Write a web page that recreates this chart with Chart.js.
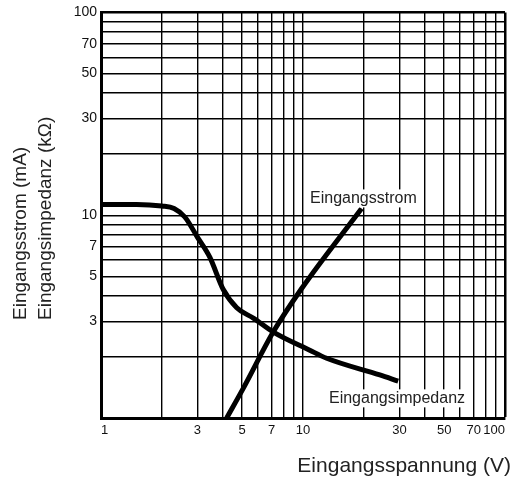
<!DOCTYPE html>
<html>
<head>
<meta charset="utf-8">
<script src="https://cdn.jsdelivr.net/npm/chart.js@4/dist/chart.umd.min.js"></script>
<style>
  html, body { margin: 0; padding: 0; background: #fff; }
</style>
</head>
<body>
<canvas id="myChart" width="510" height="477"></canvas>
<script>
// Eingangsimpedanz (kOhm) über Eingangsspannung (V)
const impedanceVolt = [1, 1.5, 2, 2.3, 2.6, 3.0, 3.46, 4.03, 4.7, 5.7, 7.1, 10.8, 13.1, 24, 29.6];
const impedanceKOhm = [11.3, 11.3, 11.1, 10.8, 9.8, 7.8, 6.2, 4.3, 3.5, 3.1, 2.66, 2.16, 1.97, 1.63, 1.52];

// Eingangsstrom (mA) über Eingangsspannung (V)
const currentVolt = [4.19, 5.1, 7.13, 9.85, 19.5];
const currentMA = [1.0, 1.42, 2.66, 4.35, 10.8];

// Gitter und Beschriftungen
const gridTicks = [1, 2, 3, 4, 5, 6, 7, 8, 9, 10, 20, 30, 40, 50, 60, 70, 80, 90, 100];
const xTickLabels = [1, 3, 5, 7, 10, 30, 50, 70, 100];
const yTickLabels = [3, 5, 7, 10, 30, 50, 70, 100];

const FONT = '"Liberation Sans", Arial, Helvetica, sans-serif';

const toPoints = (xs, ys) => xs.map((v, i) => ({ x: v, y: ys[i] }));

// Texte: Kurvenbeschriftungen und Achsentitel
const textPlugin = {
  id: "texts",
  afterDatasetsDraw(chart) {
    const { ctx, scales } = chart;
    ctx.save();
    ctx.font = "16px " + FONT;
    ctx.textAlign = "center";
    ctx.textBaseline = "middle";
    const labels = [
      { text: "Eingangsstrom", x: scales.x.getPixelForValue(19.9), y: scales.y.getPixelForValue(12.1) },
      { text: "Eingangsimpedanz", x: scales.x.getPixelForValue(29.2), y: scales.y.getPixelForValue(1.25) },
    ];
    labels.forEach((l) => {
      const w = ctx.measureText(l.text).width;
      ctx.fillStyle = "#fff";
      ctx.fillRect(l.x - w / 2 - 2, l.y - 9, w + 4, 18);
      ctx.fillStyle = "#222";
      ctx.fillText(l.text, l.x, l.y);
    });
    ctx.restore();
  },
  afterDraw(chart) {
    const { ctx } = chart;
    ctx.save();
    ctx.fillStyle = "#222";
    ctx.font = "19px " + FONT;
    ctx.textBaseline = "middle";
    ctx.textAlign = "left";
    ctx.translate(21, 320);
    ctx.rotate(-Math.PI / 2);
    ctx.fillText("Eingangsstrom (mA)", 0, 0);
    ctx.fillText("Eingangsimpedanz (k\u03A9)", 0, 25);
    ctx.restore();

    ctx.save();
    ctx.fillStyle = "#222";
    ctx.font = "21px " + FONT;
    ctx.textAlign = "right";
    ctx.textBaseline = "middle";
    ctx.fillText("Eingangsspannung (V)", 511, 466);
    ctx.restore();
  },
};

const gridWidth = (c) => (c.tick && c.tick.value === 100 ? 2.5 : 1.4);

const ctx = document.getElementById("myChart");
new Chart(ctx, {
  type: "line",
  data: {
    datasets: [
      {
        label: "Eingangsimpedanz",
        data: toPoints(impedanceVolt, impedanceKOhm),
        borderColor: "#000",
        borderWidth: 5,
        pointRadius: 0,
        cubicInterpolationMode: "monotone",
        fill: false,
      },
      {
        label: "Eingangsstrom",
        data: toPoints(currentVolt, currentMA),
        borderColor: "#000",
        borderWidth: 5,
        pointRadius: 0,
        cubicInterpolationMode: "monotone",
        fill: false,
      },
    ],
  },
  options: {
    responsive: false,
    animation: false,
    devicePixelRatio: 1,
    layout: { padding: { left: 0, top: 12, right: 5, bottom: 0 } },
    plugins: {
      legend: { display: false },
      tooltip: { enabled: false },
    },
    scales: {
      x: {
        type: "logarithmic",
        min: 1,
        max: 100,
        afterBuildTicks: (s) => { s.ticks = gridTicks.map((v) => ({ value: v })); },
        afterFit: (s) => { s.height = 59; },
        grid: { color: "#000", lineWidth: gridWidth, drawTicks: false },
        border: { color: "#000", width: 3 },
        ticks: {
          autoSkip: false,
          maxRotation: 0,
          align: "inner",
          padding: 5,
          color: "#111",
          font: { family: FONT, size: 13 },
          callback: (v) => (xTickLabels.includes(v) ? String(v) : ""),
        },
      },
      y: {
        type: "logarithmic",
        min: 1,
        max: 100,
        afterBuildTicks: (s) => { s.ticks = gridTicks.map((v) => ({ value: v })); },
        afterFit: (s) => { s.width = 101; },
        grid: { color: "#000", lineWidth: gridWidth, drawTicks: false },
        border: { color: "#000", width: 3 },
        ticks: {
          autoSkip: false,
          padding: 4,
          color: "#111",
          font: { family: FONT, size: 14 },
          callback: (v) => (yTickLabels.includes(v) ? String(v) : ""),
        },
      },
    },
  },
  plugins: [textPlugin],
});
</script>
</body>
</html>
